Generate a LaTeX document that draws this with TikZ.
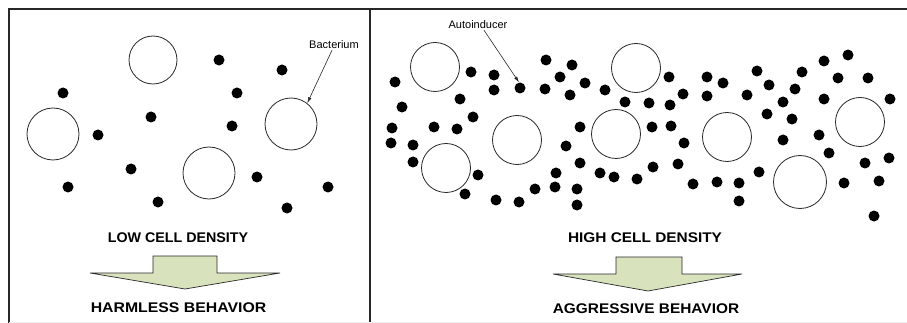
\documentclass[tikz,border=0pt]{standalone}
\usepackage{fontspec}
\usepackage{graphicx}
\setmainfont{Liberation Sans}
\usetikzlibrary{arrows.meta}
\definecolor{arrowfill}{RGB}{216,226,188}
\definecolor{inkline}{RGB}{40,40,40}
\tikzset{
  frameline/.style={line width=1.6pt, draw=inkline},
  cell/.style={circle, draw=inkline, line width=0.8pt, inner sep=0pt, minimum size=#1},
  cell/.default=49pt,
  molecule/.style={circle, fill=black, inner sep=0pt, minimum size=11pt},
  heading/.style={font=\bfseries\fontsize{14}{16}\selectfont, inner sep=0pt},
  callout/.style={font=\fontsize{11}{13}\selectfont, inner sep=1pt},
  pointer/.style={-{Latex[length=6pt,width=3.5pt]}, line width=0.6pt, draw=inkline},
  bigarrow/.style={draw=inkline, line width=0.7pt, fill=arrowfill, line join=miter}
}
\begin{document}
\begin{tikzpicture}[x=1pt,y=-1pt]
\useasboundingbox (0,0) rectangle (907,323);

% panel frame
\draw[frameline] (9,323) -- (9,9) -- (907,9);
\draw[frameline] (370,9) -- (370,323);
\draw[gray!12, line width=0.6pt] (9,322.5) -- (907,322.5);

% ---- left panel: few cells, few signal molecules ----
\node[cell=48pt] (lc1) at (153,60) {};
\node[cell=52pt] (lc2) at (53,134) {};
\node[cell=52pt] (lc3) at (209,173) {};
\node[cell=52pt] (lc4) at (291,124) {};
\foreach [count=\i] \p in {(219,60),(282,70),(63,93),(237,93),(151,117),(232,126),
  (98,135),(131,169),(257,177),(68,187),(328,187),(158,202),(287,208)}
  \node[molecule] (lm\i) at \p {};

\node[callout] (bact) at (334,45) {Bacterium};
\draw[pointer] ([xshift=-2pt]bact.south) -- (lc4.52);

\node[heading] (low) at (178,238) {\scalebox{1.02}[1]{LOW CELL DENSITY}};
\draw[bigarrow] (153,256) -- (217,256) -- (217,273) -- (280,273)
  -- (185,289) -- (90,273) -- (153,273) -- cycle;
\node[heading] (harm) at (178.5,308) {\scalebox{1.13}[1]{HARMLESS BEHAVIOR}};

% ---- right panel: many cells, many signal molecules ----
\node[cell] (rc1) at (435,67) {};
\node[cell] (rc2) at (517,140) {};
\node[cell] (rc3) at (446,168) {};
\node[cell] (rc4) at (636,68) {};
\node[cell] (rc5) at (616,134) {};
\node[cell] (rc6) at (727,137) {};
\node[cell=53pt] (rc7) at (800,182) {};
\node[cell] (rc8) at (860,122) {};
\node[molecule] (target) at (520,88) {};
\foreach [count=\i] \p in {(546,60),(572,65),(824,61),(848,55),(757,71),(802,72),
  (471,72),(494,75),(669,77),(707,77),(838,78),(868,78),(395,82),(560,77),(585,83),
  (723,83),(769,85),(494,90),(545,89),(605,90),(795,89),(570,95),(683,94),(707,96),
  (747,95),(460,99),(890,99),(824,99),(625,102),(649,103),(670,105),(783,102),
  (402,107),(473,117),(767,114),(792,119),(392,128),(434,127),(457,129),(580,127),
  (652,127),(671,126),(819,135),(391,143),(413,145),(684,143),(783,140),(566,146),
  (829,153),(413,162),(580,163),(865,163),(889,158),(653,167),(678,164),(478,175),
  (556,173),(600,173),(614,177),(637,179),(759,172),(693,184),(717,182),(739,183),
  (844,183),(879,181),(535,189),(555,187),(577,189),(465,194),(496,200),(519,202),
  (577,205),(739,201),(874,216)}
  \node[molecule] (rm\i) at \p {};

\node[callout] (auto) at (478,25) {Autoinducer};
\draw[pointer] ([xshift=6pt]auto.south) -- (target.100);

\node[heading] (high) at (645,238) {\scalebox{1.1}[1]{HIGH CELL DENSITY}};
\draw[bigarrow] (616,257) -- (682,257) -- (682,274) -- (742,274)
  -- (648,291) -- (553,274) -- (616,274) -- cycle;
\node[heading] (aggr) at (646,309) {\scalebox{1.1}[1]{AGGRESSIVE BEHAVIOR}};
\end{tikzpicture}
\end{document}
